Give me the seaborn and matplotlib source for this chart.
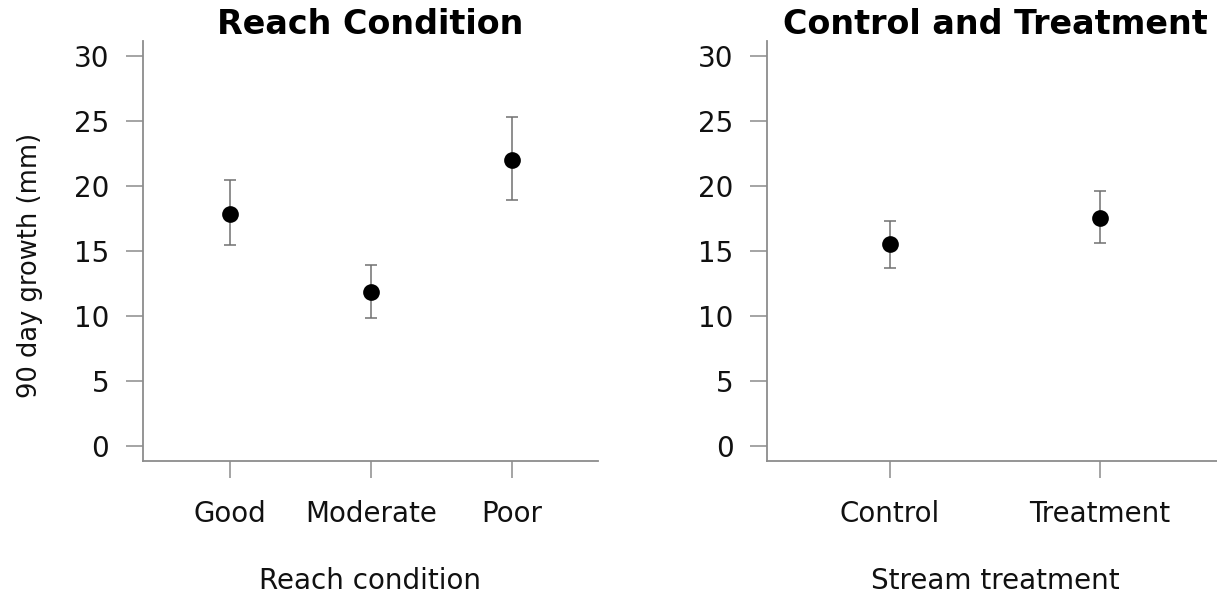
import matplotlib
matplotlib.use("Agg")
import matplotlib.pyplot as plt
import seaborn as sns
import pandas as pd
import numpy as np

# ---- data ----
reach_categories = ["Good", "Moderate", "Poor"]
reach_means = [17.8, 11.8, 22.0]
reach_lower = [15.4, 9.85, 18.9]
reach_upper = [20.4, 13.9, 25.3]

treat_categories = ["Control", "Treatment"]
treat_means = [15.5, 17.55]
treat_lower = [13.7, 15.6]
treat_upper = [17.3, 19.6]

y_ticks = [0, 5, 10, 15, 20, 25, 30]

sns.set_theme(style="white")
plt.rcParams['font.family'] = ['DejaVu Sans']

W, H = 1217, 594
fig = plt.figure(figsize=(W / 100, H / 100), dpi=100)

GRAY = "#8c8c8c"


def panel(ax, cats, means, lo, hi, title, xlabel, xlim, ylabel=None):
    df = pd.DataFrame({"cat": cats, "val": means})
    sns.pointplot(data=df, x="cat", y="val", order=cats, errorbar=None,
                  linestyle="none", color="black", markers="o",
                  markersize=10, ax=ax, zorder=3)
    pos = np.arange(len(cats))
    m = np.array(means)
    yerr = np.vstack([m - np.array(lo), np.array(hi) - m])
    ax.errorbar(pos, m, yerr=yerr, fmt="none", ecolor="#707070",
                elinewidth=1.1, capsize=4.3, capthick=1.1, zorder=2)
    ax.set_xlim(*xlim)
    ax.set_ylim(-1.18, 31.13)
    ax.set_yticks(y_ticks)
    ax.set_yticklabels([str(t) for t in y_ticks])
    for s in ["top", "right"]:
        ax.spines[s].set_visible(False)
    for s in ["left", "bottom"]:
        ax.spines[s].set_color(GRAY)
        ax.spines[s].set_linewidth(1.3)
    ax.tick_params(axis="both", which="major", direction="out", length=12,
                   width=1.1, color=GRAY, labelsize=20, labelcolor="#111111",
                   left=True, bottom=True)
    ax.tick_params(axis="y", pad=12)
    ax.tick_params(axis="x", pad=16)
    ax.set_title(title, fontsize=24, fontweight="bold", pad=5, color="black")
    ax.set_xlabel(xlabel, fontsize=20, labelpad=28, color="#111111")
    if ylabel:
        ax.set_ylabel(ylabel, fontsize=18.5, color="#111111")
        ax.yaxis.set_label_coords(-0.219, 0.466)
    else:
        ax.set_ylabel("")
    ax.grid(False)


bottom = (H - 461) / H
height = (461 - 41) / H

ax1 = fig.add_axes([142.7 / W, bottom, (598 - 142.7) / W, height])
panel(ax1, reach_categories, reach_means, reach_lower, reach_upper,
      "Reach Condition", "Reach condition", (-0.62, 2.61),
      ylabel="90 day growth (mm)")

ax2 = fig.add_axes([767 / W, bottom, (1223 - 767) / W, height])
panel(ax2, treat_categories, treat_means, treat_lower, treat_upper,
      "Control and Treatment", "Stream treatment", (-0.586, 1.586))

fig.savefig("out.png", dpi=100, facecolor="white")
